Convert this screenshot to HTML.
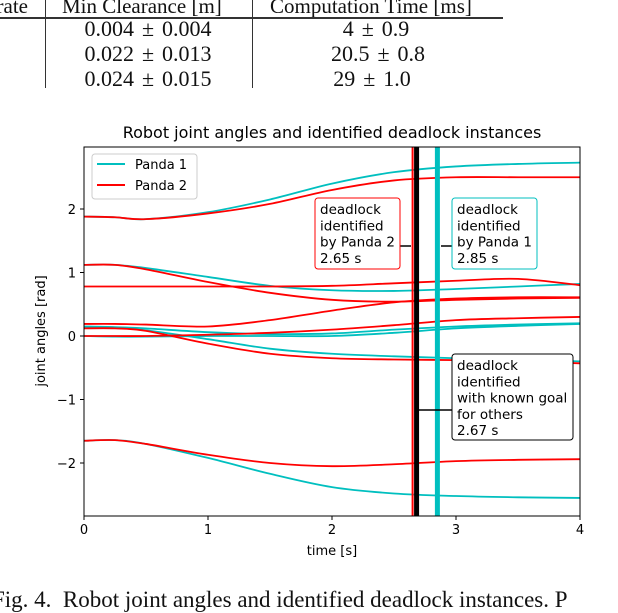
<!DOCTYPE html>
<html><head><meta charset="utf-8"><style>
body{margin:0;width:618px;height:594px;overflow:hidden;background:#fff;position:relative;font-family:"Liberation Serif",serif}
.t{position:absolute;font-size:21px;color:#111;white-space:nowrap}
.c{position:absolute;font-size:22px;color:#111;white-space:nowrap;text-align:center;width:200px}
.pm{margin:0 8px}
</style></head><body>
<div style="position:absolute;left:0;top:0;width:618px;height:92px">
<div class="t" style="right:590px;top:-6px">rate</div>
<div class="t" style="left:62px;top:-6px">Min Clearance [m]</div>
<div class="t" style="left:270px;top:-6px">Computation Time [ms]</div>
<div style="position:absolute;left:0;top:17px;width:503px;height:1.5px;background:#333"></div>
<div style="position:absolute;left:45px;top:0;width:1px;height:88px;background:#333"></div>
<div style="position:absolute;left:252px;top:0;width:1px;height:88px;background:#333"></div>
<div class="c" style="left:48px;top:16px">0.004<span class="pm">±</span>0.004</div>
<div class="c" style="left:276px;top:16px">4<span class="pm">±</span>0.9</div>
<div class="c" style="left:278px;top:41px">20.5<span class="pm">±</span>0.8</div>
<div class="c" style="left:48px;top:41px">0.022<span class="pm">±</span>0.013</div>
<div class="c" style="left:48px;top:66px">0.024<span class="pm">±</span>0.015</div>
<div class="c" style="left:272px;top:66px">29<span class="pm">±</span>1.0</div>
</div>
<svg id="chart" width="618" height="594" style="position:absolute;left:0;top:0;font-family:'DejaVu Sans',sans-serif">
<text x="332" y="138" font-size="16" text-anchor="middle">Robot joint angles and identified deadlock instances</text>
<g id="series"></g><g id="axes"></g>
</svg>
<div class="t" style="left:-8px;top:587px;font-size:23px">Fig. 4.&nbsp; Robot joint angles and identified deadlock instances. P</div>
<script>
const times=[0,0.25,0.5,1,1.5,2,2.5,3,3.5,4];
const panda1=[
[1.88,1.87,1.84,1.95,2.15,2.40,2.58,2.67,2.71,2.73],
[1.12,1.12,1.07,0.93,0.79,0.72,0.71,0.74,0.78,0.82],
[0.15,0.14,0.12,0.06,0.03,0.04,0.10,0.15,0.18,0.20],
[0.0,-0.01,-0.01,0.0,0.0,0.0,0.05,0.12,0.16,0.19],
[0.13,0.13,0.09,-0.05,-0.2,-0.28,-0.32,-0.35,-0.37,-0.40],
[-1.65,-1.64,-1.70,-1.92,-2.17,-2.38,-2.48,-2.52,-2.54,-2.55]];
const panda2=[
[1.88,1.87,1.84,1.93,2.08,2.30,2.45,2.50,2.50,2.50],
[1.12,1.12,1.05,0.85,0.68,0.57,0.54,0.57,0.59,0.60],
[0.78,0.78,0.78,0.78,0.78,0.79,0.83,0.87,0.90,0.80],
[0.19,0.19,0.18,0.15,0.25,0.40,0.53,0.59,0.61,0.61],
[0.12,0.12,0.08,-0.12,-0.28,-0.35,-0.37,-0.38,-0.40,-0.43],
[0.0,0.0,0.0,0.02,0.05,0.10,0.17,0.25,0.28,0.30],
[-1.65,-1.64,-1.70,-1.87,-2.0,-2.05,-2.02,-1.97,-1.95,-1.94]];
const xTicks=[0,1,2,3,4];
const yTicks=[-2,-1,0,1,2];
const events=[2.65,2.67,2.85];
const NS='http://www.w3.org/2000/svg';
const L=84,R=580,T=147,B=516;
const X=t=>L+(t-0)/4*(R-L);
const Y=v=>336-v*63.5;
const ser=document.getElementById('series'),ax=document.getElementById('axes');
function mk(tag,at,par){const e=document.createElementNS(NS,tag);for(const k in at)e.setAttribute(k,at[k]);par.appendChild(e);return e;}
function path(vals){const p=vals.map((v,i)=>[X(times[i]),Y(v)]);let d='M'+p[0][0]+','+p[0][1];
for(let i=0;i<p.length-1;i++){const p0=p[Math.max(0,i-1)],p1=p[i],p2=p[i+1],p3=p[Math.min(p.length-1,i+2)];
d+=' C'+(p1[0]+(p2[0]-p0[0])/6)+','+(p1[1]+(p2[1]-p0[1])/6)+' '+(p2[0]-(p3[0]-p1[0])/6)+','+(p2[1]-(p3[1]-p1[1])/6)+' '+p2[0]+','+p2[1];}return d;}
mk('clipPath',{id:'cp'},ser);mk('rect',{x:L,y:T,width:R-L,height:B-T},ser.lastChild);
panda1.forEach((s,i)=>{const e=mk('path',{d:path(s),fill:'none',stroke:'#00bfbf','stroke-width':1.8,'clip-path':'url(#cp)'},ser);

});
panda2.forEach((s,i)=>{const e=mk('path',{d:path(s),fill:'none',stroke:'#ff0000','stroke-width':1.8,'clip-path':'url(#cp)'},ser);

});
let e;
e=mk('line',{x1:X(events[0]),x2:X(events[0]),y1:T,y2:B,stroke:'#ff0000','stroke-width':2},ser);


e=mk('line',{x1:X(events[1])+1.5,x2:X(events[1])+1.5,y1:T,y2:B,stroke:'#000','stroke-width':5},ser);


e=mk('line',{x1:X(events[2]),x2:X(events[2]),y1:T,y2:B,stroke:'#00bfbf','stroke-width':5},ser);


mk('rect',{x:L,y:T,width:R-L,height:B-T,fill:'none',stroke:'#000','stroke-width':1},ax);
xTicks.forEach(t=>{mk('line',{x1:X(t),x2:X(t),y1:B,y2:B+4,stroke:'#000'},ax);
const tx=mk('text',{x:X(t),y:B+18,'font-size':13,'text-anchor':'middle'},ax);tx.textContent=t;

});
yTicks.forEach(v=>{mk('line',{x1:L-4,x2:L,y1:Y(v),y2:Y(v),stroke:'#000'},ax);
const tx=mk('text',{x:L-8,y:Y(v)+5,'font-size':13,'text-anchor':'end'},ax);tx.textContent=v<0?'\u2212'+(-v):v;

});
e=mk('text',{x:332,y:555,'font-size':13,'text-anchor':'middle'},ax);e.textContent='time [s]';


e=mk('text',{x:45,y:331,'font-size':13,'text-anchor':'middle',transform:'rotate(-90 45 331)'},ax);e.textContent='joint angles [rad]';


const lg=mk('g',{},ax);


mk('rect',{x:92,y:154,width:105,height:45,rx:3,fill:'#fff',stroke:'#ccc'},lg);
mk('line',{x1:97,x2:125,y1:164,y2:164,stroke:'#00bfbf','stroke-width':2},lg);
mk('line',{x1:97,x2:125,y1:185,y2:185,stroke:'#ff0000','stroke-width':2},lg);
e=mk('text',{x:135,y:169,'font-size':13},lg);e.textContent='Panda 1';
e=mk('text',{x:135,y:190,'font-size':13},lg);e.textContent='Panda 2';
function box(x,y,w,h,col,lines,name,cx1,cx2,cy){
const g=mk('g',{},ax);


mk('line',{x1:cx1,x2:cx2,y1:cy,y2:cy,stroke:'#000','stroke-width':1.5},g);
mk('rect',{x:x,y:y,width:w,height:h,rx:3,fill:'#fff',stroke:col,'stroke-width':1},g);
lines.forEach((s,i)=>{const t=mk('text',{x:x+5,y:y+16+i*16.3,'font-size':13.5},g);t.textContent=s;});}
box(315,198,85,71,'#ff0000',['deadlock','identified','by Panda 2','2.65 s'],'annotation-panda2',400,411,246);
box(452,198,85,71,'#00bfbf',['deadlock','identified','by Panda 1','2.85 s'],'annotation-panda1',441,452,246);
box(452,354,121,86,'#000',['deadlock','identified','with known goal','for others','2.67 s'],'annotation-known-goal',418,452,410);
</script>
</body></html>
